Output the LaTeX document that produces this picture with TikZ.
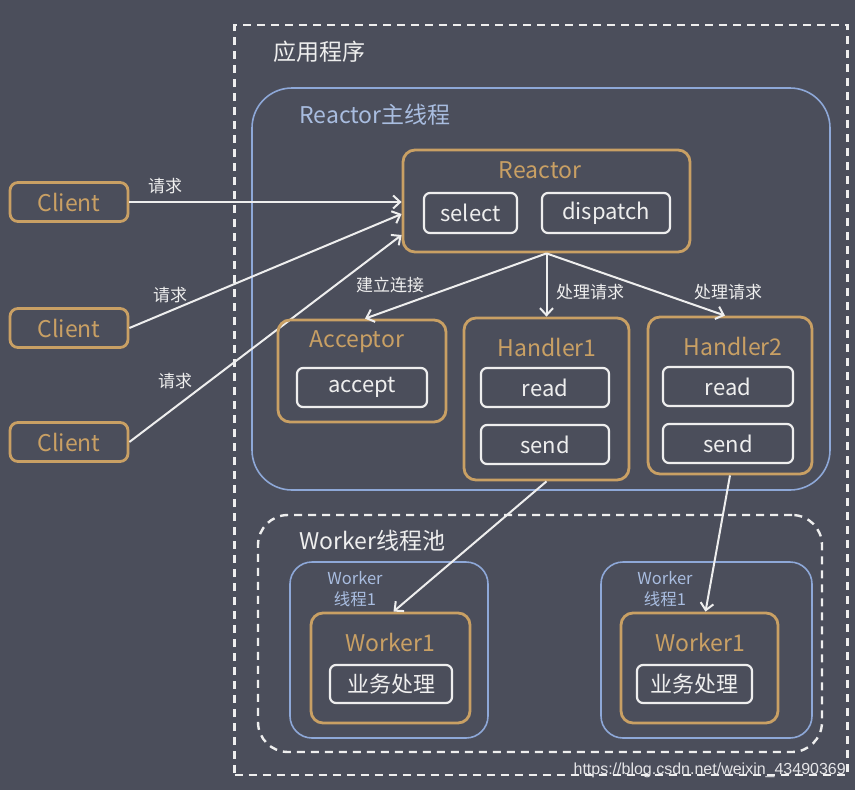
\documentclass[tikz,border=0pt]{standalone}
\usepackage{fontspec}
\setmainfont{Noto Sans CJK SC}
\newfontfamily\wmfont{Liberation Sans}
\usetikzlibrary{arrows.meta}
\definecolor{bgc}{HTML}{4B4E5B}
\definecolor{orng}{HTML}{C9A064}
\definecolor{blu}{HTML}{8EA8D8}
\definecolor{blutxt}{HTML}{A9BDE0}
\definecolor{wht}{HTML}{EEEEEE}
\tikzset{
  x=1pt, y=-1pt,
  obox/.style={draw=orng, line width=2.8pt, rounded corners=12pt, inner sep=0pt},
  wbox/.style={draw=wht, line width=2.2pt, rounded corners=6pt, inner sep=0pt, text=wht, font=\fontsize{22}{26}\selectfont},
  bbox/.style={draw=blu, line width=1.6pt, inner sep=0pt},
  dbox/.style={draw=wht, line width=2.4pt, dash pattern=on 8pt off 6pt, inner sep=0pt},
  ttl/.style={text=orng, font=\fontsize{23}{27}\selectfont, inner sep=0pt},
  cli/.style={obox, rounded corners=8pt, minimum width=118pt, minimum height=39pt, text=orng, font=\fontsize{23}{27}\selectfont},
  lbl/.style={text=wht, font=\fontsize{17}{20}\selectfont, inner sep=0pt},
  big/.style={font=\fontsize{23}{27}\selectfont, inner sep=0pt},
  small/.style={text=blutxt, font=\fontsize{16.5}{21}\selectfont, inner sep=0pt, align=center},
  arr/.style={draw=wht, line width=2pt, -{Straight Barb[length=7pt,width=13pt,line width=2pt]}},
}
\begin{document}
\begin{tikzpicture}
\fill[bgc] (0,0) rectangle (855,790);
\useasboundingbox (0,0) rectangle (855,790);

% outer dashed application box
\node[dbox, minimum width=613pt, minimum height=750pt] (app) at (541,400) {};
\node[big, text=wht] (apptitle) at (319,52) {应用程序};

% Reactor main thread
\node[bbox, rounded corners=40pt, minimum width=578pt, minimum height=402pt] (main) at (541,289) {};
\node[big, text=blutxt] (maintitle) at (375,115) {Reactor主线程};

% Reactor
\node[obox, minimum width=287pt, minimum height=102pt] (reactor) at (546.5,201) {};
\node[ttl] (rtitle) at (540,170) {Reactor};
\node[wbox, minimum width=93pt, minimum height=40pt] (select) at (470.5,213) {select};
\node[wbox, minimum width=128pt, minimum height=40pt] (dispatch) at (606,213) {dispatch};

% Clients
\node[cli] (c1) at (69,202) {Client};
\node[cli] (c2) at (69,328) {Client};
\node[cli] (c3) at (69,442) {Client};

\draw[arr] (c1.east) -- ([yshift=-1pt]reactor.west);
\draw[arr] (c2.east) -- ([yshift=-13pt]reactor.west);
\draw[arr] (c3.east) -- ([yshift=-34pt]reactor.west);
\node[lbl] (q1) at (165,186) {请求};
\node[lbl] (q2) at (170,295) {请求};
\node[lbl] (q3) at (175,381) {请求};

% Acceptor
\node[obox, minimum width=168pt, minimum height=102pt] (acc) at (362,371) {};
\node[ttl] (acctitle) at (357,342) {Acceptor};
\node[wbox, minimum width=130pt, minimum height=39pt] (accept) at (362,387.5) {accept};

% Handler1
\node[obox, minimum width=165pt, minimum height=162pt] (h1) at (546.5,399) {};
\node[ttl] (h1title) at (547,347) {Handler1};
\node[wbox, minimum width=128pt, minimum height=39pt] (h1read) at (545,387.5) {read};
\node[wbox, minimum width=128pt, minimum height=39pt] (h1send) at (545,444.5) {send};

% Handler2
\node[obox, minimum width=164pt, minimum height=157pt] (h2) at (730,395.5) {};
\node[ttl] (h2title) at (733,346) {Handler2};
\node[wbox, minimum width=130pt, minimum height=39pt] (h2read) at (728,386.5) {read};
\node[wbox, minimum width=130pt, minimum height=39pt] (h2send) at (728,443.5) {send};

% Reactor -> acceptor/handlers
\draw[arr] (reactor.south) -- ([xshift=3pt]acc.north);
\draw[arr] (reactor.south) -- (h1.north);
\draw[arr] (reactor.south) -- ([xshift=-5pt]h2.north);
\node[lbl] (l1) at (390,285) {建立连接};
\node[lbl] (l2) at (590,292) {处理请求};
\node[lbl] (l3) at (728,292) {处理请求};

% Worker pool
\node[dbox, rounded corners=30pt, minimum width=564pt, minimum height=237pt] (pool) at (540,633.5) {};
\node[big, text=wht] (pooltitle) at (372,541) {Worker线程池};

% Worker thread 1
\node[bbox, rounded corners=22pt, minimum width=198pt, minimum height=176pt] (wt1) at (389,650) {};
\node[small] (wt1l) at (355,589) {Worker\\线程1};
\node[obox, minimum width=159pt, minimum height=110pt] (w1) at (390.5,668) {};
\node[ttl] (w1title) at (390,642) {Worker1};
\node[wbox, minimum width=122pt, minimum height=38pt] (w1job) at (391,684) {业务处理};

% Worker thread 2
\node[bbox, rounded corners=22pt, minimum width=211pt, minimum height=176pt] (wt2) at (706.5,650) {};
\node[small] (wt2l) at (665,589) {Worker\\线程1};
\node[obox, minimum width=157pt, minimum height=110pt] (w2) at (699.5,668) {};
\node[ttl] (w2title) at (700,642) {Worker1};
\node[wbox, minimum width=115pt, minimum height=38pt] (w2job) at (694.5,684) {业务处理};

\draw[arr] (h1.south) -- ([xshift=3pt]w1.north);
\draw[arr] (h2.south) -- ([xshift=6pt]w2.north);

% watermark
\node[text=white!85!bgc, font=\fontsize{16}{18}\selectfont\wmfont, inner sep=0pt, anchor=east] (wm) at (846,770) {https://blog.csdn.net/weixin\_43490369};
\end{tikzpicture}
\end{document}
